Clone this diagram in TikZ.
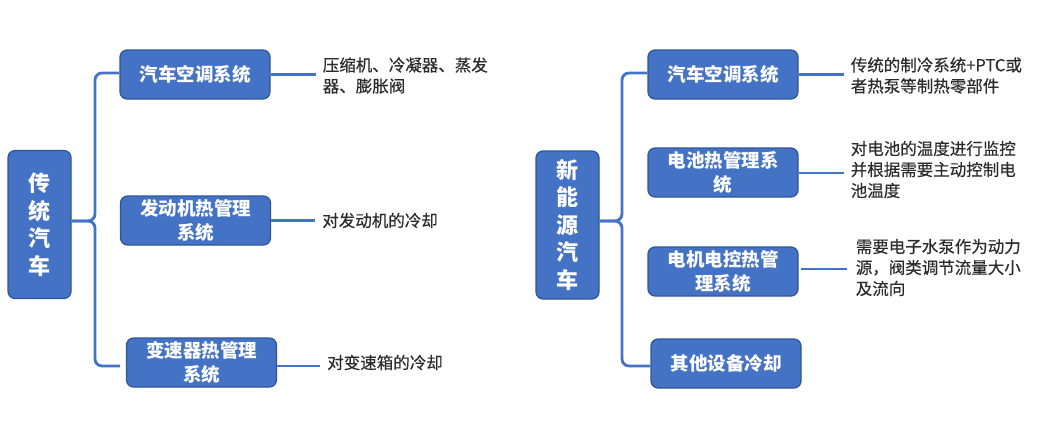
\documentclass[tikz,border=0pt]{standalone}
\usepackage{fontspec}
\setmainfont{Noto Sans CJK SC}
\newfontfamily\notefont{Noto Sans CJK SC}[FakeBold=0.35]
\definecolor{boxfill}{HTML}{4472C4}
\definecolor{boxline}{HTML}{2F5597}
\definecolor{connc}{HTML}{4472C4}
\definecolor{notec}{HTML}{2B2B2B}
\begin{document}
\begin{tikzpicture}[x=1pt,y=-1pt,
  rootbox/.style={draw=boxline,line width=1.2pt,fill=boxfill,rounded corners=7pt,
    minimum width=63pt,minimum height=148pt,inner sep=0pt,text=white,align=center,
    font=\bfseries\fontsize{22}{27.5}\selectfont},
  subbox/.style={draw=boxline,line width=1.2pt,fill=boxfill,rounded corners=7pt,
    minimum width=150pt,minimum height=49pt,inner sep=0pt,text=white,align=center,
    font=\bfseries\fontsize{18.5}{24}\selectfont},
  note/.style={anchor=west,inner xsep=7pt,inner ysep=0pt,text=notec,align=left,
    font=\notefont\fontsize{16.5}{21}\selectfont},
  conn/.style={draw=connc,line width=2.6pt},
  brace/.style={draw=connc,line width=2.8pt,rounded corners=7pt}]
\useasboundingbox (0,0) rectangle (1045,429);

% ---------- left tree ----------
\node[rootbox] (rootL) at (39.5,224.5) {传\\统\\汽\\车};
\node[subbox] (l1) at (195,74.5) {汽车空调系统};
\node[subbox] (l2) at (195.5,220.5) {发动机热管理\\系统};
\node[subbox] (l3) at (201.5,362.5) {变速器热管理\\系统};

\draw[brace] (rootL.east |- 0,221) -| (95,73) -- (l1.west |- 0,73);
\draw[brace] (rootL.east |- 0,221) -| (95,366) -- (120,366);

\node[note] (n1) at ([xshift=45pt,yshift=-1pt]l1.east) {压缩机、冷凝器、蒸发\\器、膨胀阀};
\node[note] (n2) at ([xshift=44pt]l2.east) {对发动机的冷却};
\node[note] (n3) at ([xshift=43pt]l3.east) {对变速箱的冷却};
\draw[conn] (l1.east) -- (n1.west |- l1.east);
\draw[conn] (l2.east) -- (n2.west |- l2.east);
\draw[conn] (l3.east |- 0,366) -- (n3.west |- 0,366);

% ---------- right tree ----------
\node[rootbox] (rootR) at (567.5,225) {新\\能\\源\\汽\\车};
\node[subbox] (r1) at (723,74.5) {汽车空调系统};
\node[subbox] (r2) at (723,172.5) {电池热管理系\\统};
\node[subbox] (r3) at (723,271.5) {电机电控热管\\理系统};
\node[subbox] (r4) at (726,363.5) {其他设备冷却};

\draw[brace] (rootR.east |- 0,221) -| (622,73) -- (r1.west |- 0,73);
\draw[brace] (rootR.east |- 0,221) -| (622,366) -- (r4.west |- 0,366);

\node[note] (m1) at ([xshift=45pt,yshift=-1pt]r1.east) {传统的制冷系统+PTC或\\者热泵等制热零部件};
\node[note] (m2) at ([xshift=45pt,yshift=3pt]r2.east) {对电池的温度进行监控\\并根据需要主动控制电\\池温度};
\node[note,inner xsep=9pt] (m3) at ([xshift=48pt,yshift=4pt]r3.east) {需要电子水泵作为动力\\源，阀类调节流量大小\\及流向};
\draw[conn] (r1.east) -- (m1.west |- r1.east);
\draw[conn] (r2.east |- 0,173) -- (m2.west |- 0,173);
\draw[conn] ([xshift=2pt]r3.east |- 0,269) -- (m3.west |- 0,269);
\end{tikzpicture}
\end{document}
